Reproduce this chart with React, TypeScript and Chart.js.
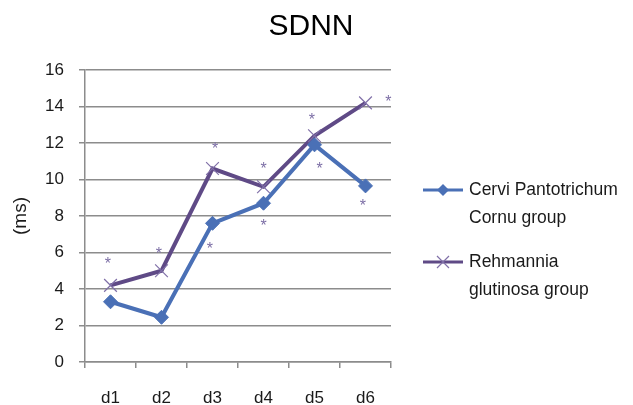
import React, { useEffect, useRef } from "react";
import { Chart, registerables } from "chart.js";

Chart.register(...registerables);

const categories = ["d1", "d2", "d3", "d4", "d5", "d6"];
const cerviValues = [3.3, 2.45, 7.6, 8.7, 11.9, 9.65];
const rehmanniaValues = [4.2, 5.0, 10.6, 9.6, 12.4, 14.2];
const yTicks = [0, 2, 4, 6, 8, 10, 12, 14, 16];
// significance asterisks: x is a category index (fractional), y a value in ms
const cerviStars = [
  { x: 1.95, y: 6.3 },
  { x: 3.0, y: 7.6 },
  { x: 4.1, y: 10.7 },
  { x: 4.95, y: 8.7 },
];
const rehmanniaStars = [
  { x: -0.05, y: 5.5 },
  { x: 0.95, y: 6.05 },
  { x: 2.05, y: 11.8 },
  { x: 3.0, y: 10.7 },
  { x: 3.95, y: 13.4 },
  { x: 5.45, y: 14.4 },
];
const seriesNames = [
  ["Cervi Pantotrichum", "Cornu group"],
  ["Rehmannia", "glutinosa group"],
];
const chartTitle = "SDNN";
const yTitle = "(ms)";

const FONT = "'Liberation Sans', Arial, sans-serif";
const BLUE = "#4a70b6";
const PURPLE = "#5f4a86";
const STAR = "#7d6fa6";
const TEXT = "#1a1a1a";

export default function App() {
  const ref = useRef<HTMLCanvasElement>(null);
  useEffect(() => {
    document.body.style.margin = "0";
    const starPlugin = {
      id: "stars",
      afterDatasetsDraw(chart: any) {
        const ctx = chart.ctx;
        const xs = chart.scales.x;
        const ys = chart.scales.y;
        ctx.save();
        ctx.font = `16px ${FONT}`;
        ctx.textAlign = "center";
        ctx.textBaseline = "middle";
        ctx.fillStyle = STAR;
        [...cerviStars, ...rehmanniaStars].forEach((s) => {
          ctx.fillText("*", xs.getPixelForValue(s.x), ys.getPixelForValue(s.y) + 3);
        });
        ctx.restore();
      },
    };
    const titlePlugin = {
      id: "customTitle",
      afterDraw(chart: any) {
        const ctx = chart.ctx;
        ctx.save();
        ctx.fillStyle = "#000";
        ctx.font = `30px ${FONT}`;
        ctx.textAlign = "center";
        ctx.textBaseline = "middle";
        ctx.fillText(chartTitle, 311, 27);
        ctx.restore();
      },
    };
    const legendPlugin = {
      id: "customLegend",
      afterDraw(chart: any) {
        const ctx = chart.ctx;
        const left = chart.chartArea.right + 32;
        const tops = [190, 262];
        const colors = [BLUE, PURPLE];
        ctx.save();
        tops.forEach((y, i) => {
          ctx.strokeStyle = colors[i];
          ctx.lineWidth = 3;
          ctx.beginPath();
          ctx.moveTo(left, y);
          ctx.lineTo(left + 40, y);
          ctx.stroke();
          const cx = left + 20;
          if (i === 0) {
            ctx.fillStyle = BLUE;
            ctx.beginPath();
            ctx.moveTo(cx, y - 6);
            ctx.lineTo(cx + 6, y);
            ctx.lineTo(cx, y + 6);
            ctx.lineTo(cx - 6, y);
            ctx.closePath();
            ctx.fill();
          } else {
            ctx.strokeStyle = "#8070a8";
            ctx.lineWidth = 1.2;
            ctx.beginPath();
            ctx.moveTo(cx - 6, y - 6);
            ctx.lineTo(cx + 6, y + 6);
            ctx.moveTo(cx + 6, y - 6);
            ctx.lineTo(cx - 6, y + 6);
            ctx.stroke();
          }
          ctx.fillStyle = TEXT;
          ctx.font = `17.5px ${FONT}`;
          ctx.textAlign = "left";
          ctx.textBaseline = "middle";
          seriesNames[i].forEach((line, j) => {
            ctx.fillText(line, left + 46, y + j * 28);
          });
        });
        ctx.restore();
      },
    };
    const chart = new Chart(ref.current!, {
      type: "line",
      data: {
        labels: categories,
        datasets: [
          {
            label: seriesNames[0].join(" "),
            data: cerviValues,
            borderColor: BLUE,
            backgroundColor: BLUE,
            borderWidth: 4,
            pointStyle: "rectRot",
            pointRadius: 7,
            pointBorderWidth: 1,
            pointBorderColor: BLUE,
            pointBackgroundColor: BLUE,
            tension: 0,
          },
          {
            label: seriesNames[1].join(" "),
            data: rehmanniaValues,
            borderColor: PURPLE,
            backgroundColor: PURPLE,
            borderWidth: 4,
            pointStyle: "crossRot",
            pointRadius: 9,
            pointBorderWidth: 1.2,
            pointBorderColor: "#8070a8",
            tension: 0,
          },
        ],
      },
      options: {
        animation: false,
        responsive: false,
        layout: { padding: { left: 0, right: 242, top: 70, bottom: 0 } },
        plugins: {
          legend: { display: false },
          tooltip: { enabled: false },
          title: { display: false },
        },
        scales: {
          x: {
            offset: true,
            grid: {
              offset: true,
              drawOnChartArea: false,
              drawTicks: true,
              tickLength: 6,
              color: "#8c8c8c",
              lineWidth: 1.5,
            },
            border: { color: "#8c8c8c", width: 1.5 },
            ticks: {
              color: TEXT,
              font: { family: FONT, size: 17 },
              padding: 20,
            },
            afterFit(scale: any) {
              scale.height = 43;
            },
          },
          y: {
            min: 0,
            max: 16,
            afterBuildTicks(scale: any) {
              scale.ticks = yTicks.map((v) => ({ value: v }));
            },
            grid: {
              color: "#8c8c8c",
              lineWidth: 1.5,
              tickLength: 6,
            },
            border: { color: "#8c8c8c", width: 1.5 },
            ticks: {
              color: TEXT,
              font: { family: FONT, size: 17 },
              padding: 15,
            },
            title: {
              display: true,
              text: yTitle,
              color: TEXT,
              font: { family: FONT, size: 19 },
              padding: { top: 9, bottom: 0 },
            },
            afterFit(scale: any) {
              scale.width = 85;
            },
          },
        },
      },
      plugins: [starPlugin, legendPlugin, titlePlugin],
    });
    return () => chart.destroy();
  }, []);
  return <canvas ref={ref} width={633} height={405} style={{ display: "block" }} />;
}
